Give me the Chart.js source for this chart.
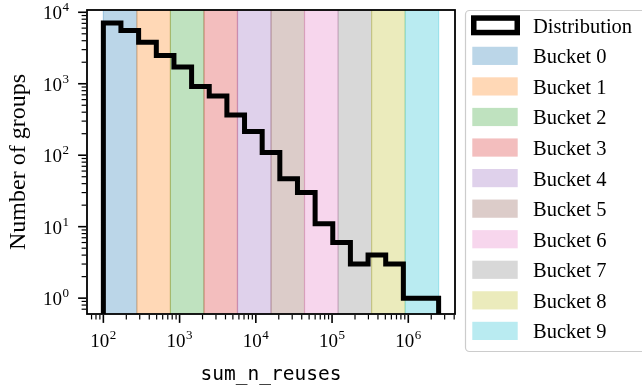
<!DOCTYPE html>
<html>
<head>
<meta charset="utf-8">
<script src="https://cdn.jsdelivr.net/npm/chart.js@4"></script>
<style>
  html, body { margin: 0; padding: 0; background: #fff; }
  #wrap { width: 642px; height: 387px; position: relative; }
</style>
</head>
<body>
<div id="wrap"><canvas id="myChart"></canvas></div>
<script>
// histogram of sum_n_reuses: bin edges and number of groups per bin
const binEdges = [100, 170, 290, 495, 843, 1437, 2448, 4172, 7110, 12115, 20646,
  35182, 59948, 102160, 174060, 296650, 505500, 861500, 1468000, 2500000];
const groupCounts = [7100, 5550, 3810, 2490, 1710, 917, 676, 364, 214, 109,
  47, 30, 11, 6, 3, 4, 3, 1, 1];

// bucket boundaries (shaded spans)
const bucketEdges = [100, 275, 758, 2087, 5746, 15819, 43553, 119910, 330130, 908900, 2500000];
const bucketLabels = ['Bucket 0', 'Bucket 1', 'Bucket 2', 'Bucket 3', 'Bucket 4',
  'Bucket 5', 'Bucket 6', 'Bucket 7', 'Bucket 8', 'Bucket 9'];
const bucketColors = ['#1f77b4', '#ff7f0e', '#2ca02c', '#d62728', '#9467bd',
  '#8c564b', '#e377c2', '#7f7f7f', '#bcbd22', '#17becf'];

// axes
const xTickValues = [1e2, 1e3, 1e4, 1e5, 1e6];
const xTickExps = ['2', '3', '4', '5', '6'];
const yTickValues = [1, 10, 100, 1000, 10000];
const yTickExps = ['0', '1', '2', '3', '4'];
const xRange = [61, 4.1e6];
const yRange = [0.64, 10760];

const serif = '"Liberation Serif", "Times New Roman", serif';

function rgba(hex, a) {
    const n = parseInt(hex.slice(1), 16);
    return 'rgba(' + (n >> 16) + ',' + ((n >> 8) & 255) + ',' + (n & 255) + ',' + a + ')';
}

function minorTicks(range, majors) {
    const out = [];
    for (let e = -2; e <= 7; e++) {
        for (let m = 2; m <= 9; m++) {
            const v = m * Math.pow(10, e);
            if (v >= range[0] && v <= range[1]) out.push(v);
        }
    }
    return out.filter(v => majors.indexOf(v) < 0);
}

// step line points: down to below the axis at both ends
const floorVal = yRange[0] / 10;
const stepPoints = [{x: binEdges[0], y: floorVal}];
groupCounts.forEach((c, i) => stepPoints.push({x: binEdges[i], y: c}));
stepPoints.push({x: binEdges[binEdges.length - 1], y: floorVal});

// "10" with a raised exponent
function drawPow(ctx, exp, x, y, align) {
    ctx.font = '19px ' + serif;
    const w1 = ctx.measureText('10').width;
    ctx.font = '13px ' + serif;
    const w2 = ctx.measureText(exp).width;
    const total = w1 + w2 + 0.5;
    let x0 = align === 'right' ? x - total : x - total / 2;
    ctx.textAlign = 'left';
    ctx.textBaseline = 'alphabetic';
    ctx.font = '19px ' + serif;
    ctx.fillText('10', x0, y);
    ctx.font = '13px ' + serif;
    ctx.fillText(exp, x0 + w1 + 0.5, y - 8);
}

const bands = {
    id: 'bands',
    beforeDatasetsDraw(chart) {
        const {ctx, chartArea: a, scales: {x}} = chart;
        ctx.save();
        ctx.beginPath();
        ctx.rect(a.left, a.top, a.right - a.left, a.bottom - a.top);
        ctx.clip();
        for (let i = 0; i < bucketLabels.length; i++) {
            const x0 = x.getPixelForValue(bucketEdges[i]);
            const x1 = x.getPixelForValue(bucketEdges[i + 1]);
            ctx.fillStyle = rgba(bucketColors[i], 0.3);
            ctx.fillRect(x0, a.top, x1 - x0, a.bottom - a.top);
            ctx.strokeStyle = rgba(bucketColors[i], 0.3);
            ctx.lineWidth = 1.2;
            ctx.strokeRect(x0, a.top - 2, x1 - x0, a.bottom - a.top + 4);
        }
        ctx.restore();
    }
};

const axesDeco = {
    id: 'axesDeco',
    afterDraw(chart) {
        const {ctx, chartArea: a, scales: {x, y}} = chart;
        ctx.save();
        ctx.fillStyle = '#000';
        ctx.strokeStyle = '#000';

        // frame
        ctx.lineWidth = 1.8;
        ctx.strokeRect(a.left, a.top, a.right - a.left, a.bottom - a.top);

        // ticks
        const tick = (x1, y1, x2, y2, w) => {
            ctx.lineWidth = w;
            ctx.beginPath();
            ctx.moveTo(x1, y1);
            ctx.lineTo(x2, y2);
            ctx.stroke();
        };
        const b = a.bottom + 0.9, l = a.left - 0.9;
        xTickValues.forEach(v => { const p = x.getPixelForValue(v); tick(p, b, p, b + 8, 1.6); });
        minorTicks(xRange, xTickValues).forEach(v => { const p = x.getPixelForValue(v); tick(p, b, p, b + 4.5, 1.2); });
        yTickValues.forEach(v => { const p = y.getPixelForValue(v); tick(l, p, l - 8, p, 1.6); });
        minorTicks(yRange, yTickValues).forEach(v => { const p = y.getPixelForValue(v); tick(l, p, l - 4.5, p, 1.2); });

        // tick labels
        xTickValues.forEach((v, i) => drawPow(ctx, xTickExps[i], x.getPixelForValue(v), 347, 'center'));
        yTickValues.forEach((v, i) => drawPow(ctx, yTickExps[i], 69, y.getPixelForValue(v) + 7, 'right'));

        // axis titles
        ctx.textAlign = 'center';
        ctx.textBaseline = 'alphabetic';
        ctx.font = '19.5px "DejaVu Sans Mono", monospace';
        ctx.fillText('sum_n_reuses', (a.left + a.right) / 2, 380);
        ctx.save();
        ctx.translate(25, (a.top + a.bottom) / 2);
        ctx.rotate(-Math.PI / 2);
        ctx.font = '24px ' + serif;
        ctx.fillText('Number of groups', 0, 0);
        ctx.restore();

        // legend
        ctx.lineWidth = 1.2;
        ctx.strokeStyle = '#cccccc';
        ctx.beginPath();
        ctx.roundRect(465.5, 10.5, 200, 341, 4);
        ctx.stroke();

        ctx.font = '20.5px ' + serif;
        ctx.textAlign = 'left';
        ctx.fillStyle = '#000';
        const rowY = i => 25.3 + 30.56 * i;
        ctx.lineWidth = 5.5;
        ctx.strokeStyle = '#000';
        ctx.strokeRect(473.75, rowY(0) - 7.25, 43.5, 14.5);
        ctx.fillText(chart.data.datasets[0].label, 533, rowY(0) + 7.5);
        bucketLabels.forEach((lab, i) => {
            const cy = rowY(i + 1);
            ctx.fillStyle = rgba(bucketColors[i], 0.3);
            ctx.fillRect(472.3, cy - 9.1, 45.4, 18.2);
            ctx.fillStyle = '#000';
            ctx.fillText(lab, 533, cy + 7.5);
        });
        ctx.restore();
    }
};

new Chart('myChart', {
    type: 'line',
    data: {
        datasets: [{
            label: 'Distribution',
            data: stepPoints,
            borderColor: '#000',
            borderWidth: 5,
            borderJoinStyle: 'miter',
            borderCapStyle: 'butt',
            stepped: true,
            fill: false,
            pointRadius: 0,
            clip: 0
        }]
    },
    options: {
        responsive: true,
        maintainAspectRatio: false,
        animation: false,
        layout: {padding: {left: 87, right: 187, top: 10, bottom: 73}},
        scales: {
            x: {type: 'logarithmic', min: xRange[0], max: xRange[1], display: false},
            y: {type: 'logarithmic', min: yRange[0], max: yRange[1], display: false}
        },
        plugins: {
            legend: {display: false},
            tooltip: {enabled: false}
        }
    },
    plugins: [bands, axesDeco]
});
</script>
</body>
</html>
